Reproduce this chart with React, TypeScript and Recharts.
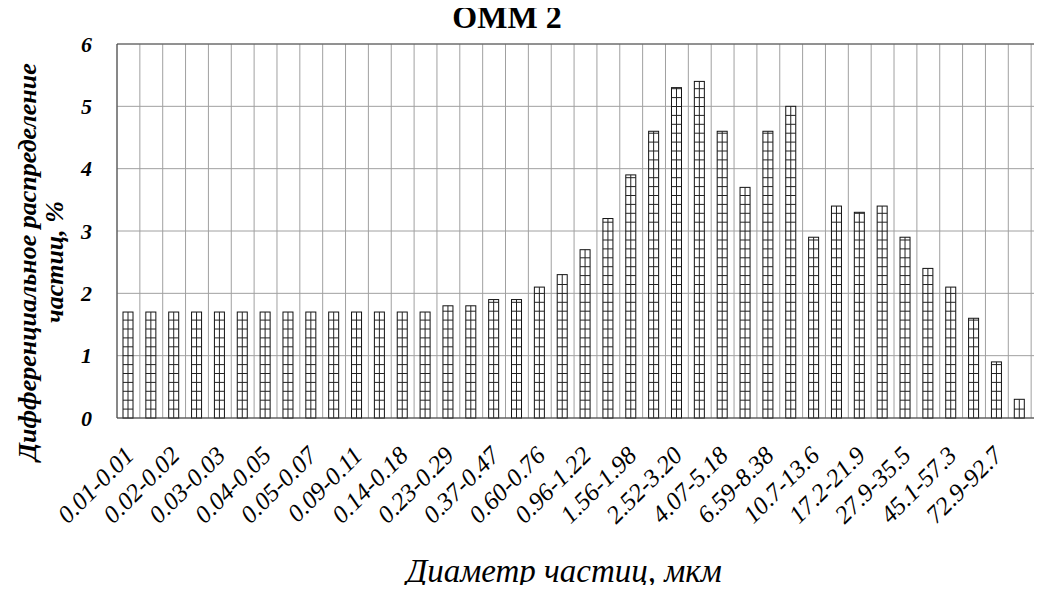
import React from "react";
import { BarChart, Bar, XAxis, YAxis, CartesianGrid, ReferenceLine } from "recharts";

// size classes, µm (only every other one is labelled on the axis)
const CATEGORIES = [
  "0.01-0.01", "0.01-0.02", "0.02-0.02", "0.02-0.03", "0.03-0.03", "0.03-0.04",
  "0.04-0.05", "0.05-0.05", "0.05-0.07", "0.07-0.09", "0.09-0.11", "0.11-0.14",
  "0.14-0.18", "0.18-0.23", "0.23-0.29", "0.29-0.37", "0.37-0.47", "0.47-0.60",
  "0.60-0.76", "0.76-0.96", "0.96-1.22", "1.22-1.56", "1.56-1.98", "1.98-2.52",
  "2.52-3.20", "3.20-4.07", "4.07-5.18", "5.18-6.59", "6.59-8.38", "8.38-10.7",
  "10.7-13.6", "13.6-17.2", "17.2-21.9", "21.9-27.9", "27.9-35.5", "35.5-45.1",
  "45.1-57.3", "57.3-72.9", "72.9-92.7", "92.7-118", "118-150",
];

const VALUES = [
  1.7, 1.7, 1.7, 1.7, 1.7, 1.7, 1.7, 1.7, 1.7, 1.7, 1.7, 1.7, 1.7, 1.7,
  1.8, 1.8, 1.9, 1.9, 2.1, 2.3, 2.7, 3.2, 3.9, 4.6, 5.3, 5.4, 4.6, 3.7,
  4.6, 5.0, 2.9, 3.4, 3.3, 3.4, 2.9, 2.4, 2.1, 1.6, 0.9, 0.3, 0.1,
];

const TICK_LABELS = [
  "0.01-0.01", "0.02-0.02", "0.03-0.03", "0.04-0.05", "0.05-0.07", "0.09-0.11",
  "0.14-0.18", "0.23-0.29", "0.37-0.47", "0.60-0.76", "0.96-1.22", "1.56-1.98",
  "2.52-3.20", "4.07-5.18", "6.59-8.38", "10.7-13.6", "17.2-21.9", "27.9-35.5",
  "45.1-57.3", "72.9-92.7",
];

const Y_TICKS = [0, 1, 2, 3, 4, 5, 6];

const data = CATEGORIES.map((name, i) => ({ name, value: VALUES[i] }));

const SERIF = "'Liberation Serif', serif";

// white bar with a small square grid inside, like the Excel pattern fill
function HatchBar(props: any) {
  const { x, y, width, height } = props;
  if (!height || height <= 0) return null;
  const bottom = y + height;
  const rows: number[] = [];
  for (let yy = bottom - 8.9; yy > y + 1; yy -= 8.9) rows.push(yy);
  return (
    <g>
      <rect x={x} y={y} width={width} height={height} fill="#fff" stroke="#111" strokeWidth={1} />
      <line x1={x + width / 2} x2={x + width / 2} y1={y} y2={bottom} stroke="#222" strokeWidth={1} />
      {rows.map((r) => (
        <line key={r} x1={x} x2={x + width} y1={r} y2={r} stroke="#222" strokeWidth={1} />
      ))}
    </g>
  );
}

function SizeTick(props: any) {
  const { x, payload } = props;
  if (!TICK_LABELS.includes(payload.value)) return <g />;
  const tx = x + 7;
  const ty = 457;
  return (
    <text
      x={tx}
      y={ty}
      textAnchor="end"
      transform={`rotate(-45 ${tx} ${ty})`}
      fontFamily={SERIF}
      fontStyle="italic"
      fontSize={25}
      fill="#000"
    >
      {payload.value}
    </text>
  );
}

export default function App() {
  return (
    <div
      style={{
        position: "relative",
        width: 1042,
        height: 593,
        overflow: "hidden",
        margin: -8,
        background: "#fff",
      }}
    >
      <BarChart
        width={1062}
        height={620}
        data={data}
        margin={{ top: 44, right: 8, left: 57, bottom: 52 }}
        barCategoryGap={0}
      >
        <CartesianGrid
          stroke="#a0a0a0"
          verticalCoordinatesGenerator={({ offset }: any) => {
            const step = offset.width / CATEGORIES.length;
            return CATEGORIES.map((_, i) => offset.left + i * step).concat(offset.left + offset.width);
          }}
        />
        <XAxis
          dataKey="name"
          interval={0}
          height={150}
          tickLine={false}
          axisLine={{ stroke: "#404040" }}
          tick={<SizeTick />}
        />
        <YAxis
          width={60}
          domain={[0, 6]}
          ticks={Y_TICKS}
          tickLine={false}
          tickMargin={19}
          axisLine={{ stroke: "#404040" }}
          tick={{ fontFamily: SERIF, fontStyle: "italic", fontWeight: "bold", fontSize: 22, fill: "#000" }}
        />
        <ReferenceLine y={6} stroke="#555" />
        <Bar dataKey="value" barSize={10} isAnimationActive={false} shape={<HatchBar />} />
        <line x1={0} x2={1062} y1={5.5} y2={5.5} stroke="#000" strokeWidth={1.5} />
      </BarChart>

      <div
        style={{
          position: "absolute",
          left: 407,
          top: 1,
          width: 200,
          textAlign: "center",
          fontFamily: SERIF,
          fontWeight: "bold",
          fontSize: 32,
          lineHeight: "32px",
        }}
      >
        ОММ 2
      </div>

      <div
        style={{
          position: "absolute",
          left: 41 - 230,
          top: 262 - 27,
          width: 460,
          height: 54,
          transform: "rotate(-90deg)",
          transformOrigin: "center",
          textAlign: "center",
          fontFamily: SERIF,
          fontStyle: "italic",
          fontWeight: "bold",
          fontSize: 26,
          lineHeight: "27px",
        }}
      >
        Дифференциальное распределение
        <br />
        частиц, %
      </div>

      <div
        style={{
          position: "absolute",
          left: 364,
          top: 555,
          width: 400,
          textAlign: "center",
          fontFamily: SERIF,
          fontStyle: "italic",
          fontSize: 33,
          lineHeight: "33px",
        }}
      >
        Диаметр частиц, мкм
      </div>
      <div
        style={{
          position: "absolute",
          left: 452,
          top: 582,
          width: 200,
          textAlign: "center",
          fontFamily: SERIF,
          fontWeight: "bold",
          fontSize: 32,
          lineHeight: "32px",
        }}
      >
        ОММ 2
      </div>
    </div>
  );
}
